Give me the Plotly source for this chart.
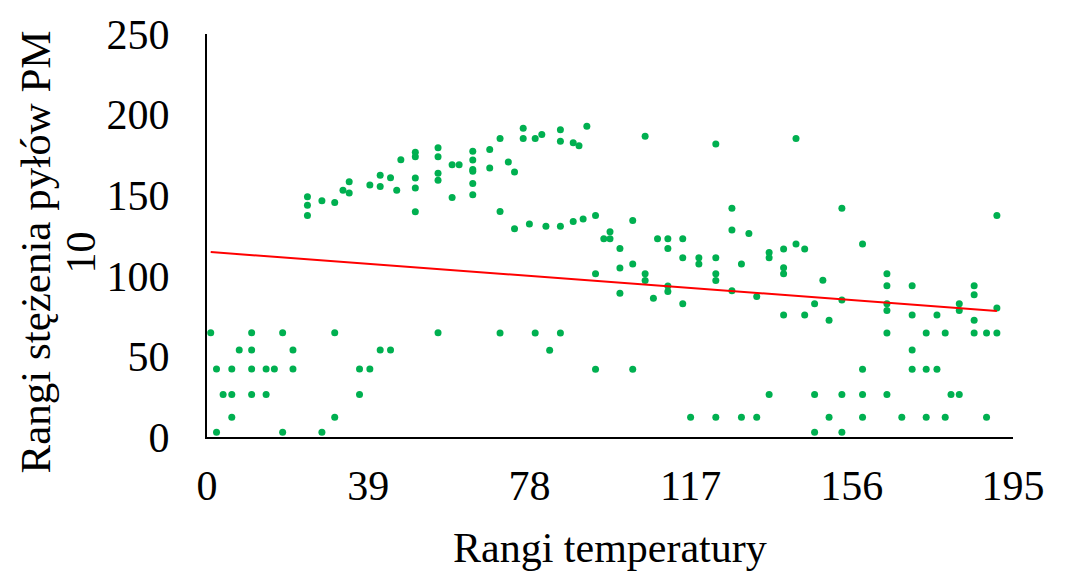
import plotly.graph_objects as go

# Ranks
temp_rank = [
    0.9, 2.3, 2.3, 3.9, 6.0, 6.0, 6.0, 7.8, 10.8, 10.8, 10.8, 10.8,
    14.3, 14.3, 16.3, 18.3, 18.3, 20.8, 20.8, 24.3, 24.3, 24.3,
    27.8, 27.8, 30.9, 30.9, 30.9, 32.9, 34.4, 34.4, 36.9, 36.9,
    39.4, 39.4, 41.9, 41.9, 41.9, 44.4, 44.4, 45.9, 46.9,
    50.4, 50.4, 50.4, 50.4, 50.4, 55.9, 55.9, 55.9, 55.9, 55.9,
    59.3, 59.3, 61.0, 64.3, 64.3, 64.3, 64.3, 64.3, 64.3,
    68.4, 68.4, 70.9, 70.9, 70.9, 72.9, 74.4, 74.4, 76.5, 76.5,
    78.0, 79.4, 79.4, 81.0, 82.0, 82.9, 85.5, 85.5, 85.5, 85.5,
    88.6, 88.6, 90.0, 91.0, 91.9, 94.0, 94.0, 94.0, 96.0, 97.5, 97.5,
    99.9, 99.9, 99.9, 103.0, 103.0, 103.0, 106.0, 106.0, 106.0,
    108.0, 109.0, 111.5, 111.5, 111.5, 111.5, 115.1, 115.1, 115.1,
    117.0, 119.0, 119.0, 123.1, 123.1, 123.1, 123.1, 123.1,
    127.0, 127.0, 127.0, 129.3, 129.3, 131.1, 133.0, 133.0,
    136.0, 136.0, 136.0, 139.5, 139.5, 139.5, 139.5, 142.5, 142.5,
    144.6, 144.6, 147.0, 147.0, 147.0, 149.0, 150.5, 150.5,
    153.6, 153.6, 153.6, 153.6, 158.6, 158.6, 158.6, 158.6,
    164.5, 164.5, 164.5, 164.5, 164.5, 164.5, 168.1,
    170.6, 170.6, 170.6, 170.6, 174.0, 174.0, 174.0, 176.6, 176.6,
    178.6, 178.6, 180.0, 182.0, 182.0, 182.0,
    185.6, 185.6, 185.6, 185.6, 188.6, 188.6, 191.1, 191.1, 191.1,
]
pm10_rank = [
    64.7, 42.2, 2.9, 26.4, 42.2, 26.4, 12.3, 54.0, 64.7, 54.0, 42.2, 26.4,
    42.2, 26.4, 42.2, 64.7, 2.9, 54.0, 42.2, 149.0, 143.7, 137.4,
    146.6, 2.9, 145.4, 64.7, 12.3, 153.0, 158.3, 151.3, 42.2, 26.4,
    156.4, 42.2, 162.3, 155.4, 54.0, 160.9, 54.0, 153.0, 172.0,
    176.7, 173.8, 160.7, 154.4, 139.8, 179.4, 173.8, 163.6, 159.3, 64.7,
    168.9, 148.5, 168.9, 177.3, 171.8, 166.0, 164.8, 157.3, 150.3,
    178.3, 166.9, 185.1, 139.9, 64.5, 170.6, 164.4, 129.2, 191.6, 185.1,
    132.1, 185.1, 64.5, 187.6, 130.8, 53.8, 190.6, 183.5, 130.8, 64.5,
    182.6, 133.7, 180.6, 135.3, 192.7, 137.4, 101.2, 42.0, 123.0, 123.0, 127.4,
    116.9, 104.8, 89.1, 134.3, 107.3, 42.0, 186.5, 101.2, 97.1,
    86.0, 123.0, 123.0, 116.9, 93.6, 90.3, 123.0, 111.2, 82.7,
    12.3, 111.2, 107.3, 181.8, 111.2, 101.2, 97.1, 12.3,
    141.9, 128.4, 90.8, 107.3, 12.3, 126.3, 87.2, 12.3,
    114.5, 111.2, 26.4, 116.7, 105.0, 101.2, 75.7, 185.1, 119.8,
    116.7, 75.7, 82.7, 26.4, 2.9, 97.3, 72.5, 12.3,
    141.9, 85.0, 26.4, 2.9, 119.8, 42.0, 26.4, 12.3,
    101.2, 93.8, 82.7, 78.4, 64.5, 26.4, 12.3,
    93.8, 75.7, 53.9, 42.0, 64.5, 42.0, 12.3, 75.7, 42.0,
    64.5, 12.3, 26.4, 82.7, 78.4, 26.4,
    93.8, 88.3, 72.5, 64.5, 64.5, 12.3, 137.4, 80.0, 64.5,
]

# Linear trend line
trend_intercept = 114.9
trend_slope = -0.192

x_ticks = [0, 39, 78, 117, 156, 195]
y_ticks = [0, 50, 100, 150, 200, 250]

FONT = "Liberation Serif, Times New Roman, serif"
FS = 42

tx = [min(temp_rank), max(temp_rank)]
ty = [trend_intercept + trend_slope * v for v in tx]

fig = go.Figure()
fig.add_trace(go.Scatter(
    x=temp_rank, y=pm10_rank, mode="markers",
    marker=dict(size=7, color="#00B050"),
    showlegend=False, cliponaxis=False,
))
fig.add_trace(go.Scatter(
    x=tx, y=ty, mode="lines",
    line=dict(color="#FF0000", width=2),
    showlegend=False,
))

fig.update_layout(
    width=1073, height=571,
    margin=dict(l=207, r=60, t=30, b=134),
    paper_bgcolor="white", plot_bgcolor="white",
    font=dict(family=FONT, size=FS, color="black"),
    xaxis=dict(
        range=[0, 195], tickvals=x_ticks, ticktext=[str(v) for v in x_ticks],
        showline=True, linecolor="black", linewidth=2,
        showgrid=False, zeroline=False, ticks="",
        ticklabelstandoff=11,
        tickfont=dict(family=FONT, size=FS),
    ),
    yaxis=dict(
        range=[0, 250], tickvals=y_ticks, ticktext=[str(v) for v in y_ticks],
        showline=True, linecolor="black", linewidth=2,
        showgrid=False, zeroline=False, ticks="",
        ticklabelstandoff=27,
        tickfont=dict(family=FONT, size=FS),
    ),
    annotations=[
        dict(text="Rangi temperatury", xref="paper", yref="paper",
             x=0.5, y=0, yshift=-111, xanchor="center", yanchor="middle",
             showarrow=False, font=dict(family=FONT, size=FS)),
        dict(text="Rangi stężenia pyłów PM", xref="paper", yref="paper",
             x=0, xshift=-172, y=0.5, yshift=-17, textangle=-90,
             xanchor="center", yanchor="middle",
             showarrow=False, font=dict(family=FONT, size=43)),
        dict(text="10", xref="paper", yref="paper",
             x=0, xshift=-127, y=0.5, yshift=-17, textangle=-90,
             xanchor="center", yanchor="middle",
             showarrow=False, font=dict(family=FONT, size=FS)),
    ],
)

fig.write_html("out.html", config={"displayModeBar": False},
               post_script="document.body.style.margin='0';")
